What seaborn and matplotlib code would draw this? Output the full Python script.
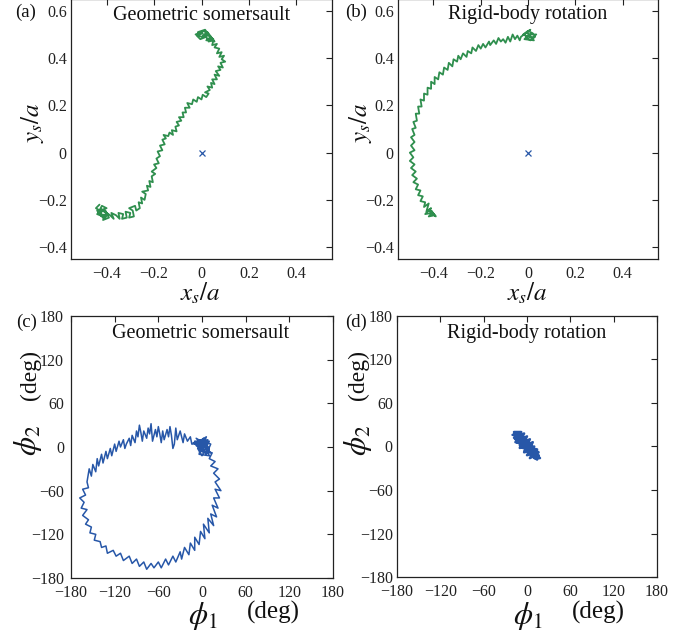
# Trajectory panels: swimmer position (top) and joint angles (bottom)

import pandas as pd
import matplotlib.pyplot as plt
import seaborn as sns

GREEN = '#2f8f4e'
BLUE = '#2757a8'

# (a) geometric somersault, position x_s/a, y_s/a
xs_a = [-0.43, -0.445, -0.42, -0.44, -0.415, -0.43, -0.40, -0.42, -0.435, -0.41, -0.395, -0.425,
        -0.44, -0.405, -0.39, -0.415, -0.40, -0.425, -0.385, -0.37, -0.38, -0.36,
        -0.345, -0.35, -0.33, -0.335, -0.315, -0.32, -0.30, -0.305, -0.285, -0.29, -0.305,
        -0.28, -0.275, -0.26, -0.265, -0.25, -0.255, -0.24, -0.235, -0.25, -0.225, -0.23,
        -0.215, -0.22, -0.205, -0.21, -0.195, -0.21, -0.19, -0.20, -0.18, -0.19, -0.175,
        -0.185, -0.165, -0.175, -0.155, -0.165, -0.15, -0.16, -0.14, -0.135, -0.12, -0.125,
        -0.105, -0.11, -0.095, -0.105, -0.085, -0.095, -0.075, -0.08, -0.065, -0.07, -0.05,
        -0.06, -0.04, -0.035, -0.02, -0.015, 0.0, 0.005, 0.02, 0.03, 0.015, 0.035, 0.025,
        0.045, 0.04, 0.055, 0.045, 0.065, 0.055, 0.075, 0.06, 0.08, 0.07, 0.09, 0.08, 0.10,
        0.085, 0.095, 0.075, 0.085, 0.065, 0.075, 0.055, 0.065, 0.045, 0.05, 0.03,
        0.02, -0.005, -0.02, 0.005, -0.015, 0.015, 0.03, 0.0, -0.025, 0.01, 0.04, 0.02, 0.05,
        0.03, 0.005, 0.025, 0.055, 0.035]
ys_a = [-0.22, -0.235, -0.25, -0.26, -0.27, -0.245, -0.235, -0.225, -0.255, -0.28, -0.26,
        -0.265, -0.245, -0.245, -0.275, -0.285, -0.255, -0.24, -0.265, -0.28, -0.255, -0.265,
        -0.28, -0.255, -0.26, -0.28, -0.275, -0.25, -0.255, -0.275, -0.27, -0.245, -0.235,
        -0.225, -0.245, -0.235, -0.21, -0.215, -0.19, -0.20, -0.175, -0.165, -0.16, -0.14,
        -0.145, -0.12, -0.125, -0.10, -0.09, -0.08, -0.065, -0.05, -0.045, -0.025, -0.015,
        0.005, 0.01, 0.03, 0.035, 0.055, 0.06, 0.075, 0.07, 0.085, 0.075, 0.095, 0.09, 0.11,
        0.115, 0.13, 0.135, 0.15, 0.15, 0.17, 0.17, 0.19, 0.19, 0.21, 0.205, 0.225, 0.215,
        0.235, 0.225, 0.245, 0.235, 0.25, 0.255, 0.265, 0.28, 0.275, 0.295, 0.29, 0.31, 0.31,
        0.33, 0.325, 0.345, 0.35, 0.365, 0.36, 0.38, 0.385, 0.395, 0.41, 0.405, 0.425, 0.42,
        0.44, 0.445, 0.46, 0.455, 0.475, 0.47,
        0.49, 0.48, 0.495, 0.505, 0.51, 0.52, 0.50, 0.49, 0.50, 0.515, 0.49, 0.475, 0.48,
        0.495, 0.495, 0.51, 0.47, 0.48]

# (b) rigid-body rotation, position
xs_b = [0.03, 0.01, -0.01, 0.02, 0.0, -0.02, 0.015, 0.035, 0.005, -0.015, 0.025, -0.005,
        0.01, -0.03,
        -0.035, -0.045, -0.055, -0.065, -0.075, -0.085, -0.095, -0.105, -0.115, -0.125,
        -0.135, -0.145, -0.16, -0.165, -0.18, -0.19, -0.20, -0.21, -0.22, -0.235, -0.24,
        -0.255, -0.26, -0.275, -0.285, -0.295, -0.30, -0.315, -0.32, -0.335, -0.34, -0.355,
        -0.36, -0.375, -0.38, -0.395, -0.395, -0.41, -0.41, -0.425, -0.425, -0.44, -0.44,
        -0.455, -0.45, -0.465, -0.46, -0.475, -0.47, -0.485, -0.475, -0.49, -0.48, -0.495,
        -0.48, -0.495, -0.48, -0.50, -0.485, -0.50, -0.48, -0.495, -0.475, -0.49, -0.47,
        -0.485, -0.465, -0.475, -0.455, -0.465, -0.445, -0.455, -0.435,
        -0.44, -0.42, -0.43, -0.41, -0.435, -0.405, -0.42, -0.395, -0.41, -0.39, -0.425]
ys_b = [0.49, 0.475, 0.49, 0.505, 0.515, 0.50, 0.485, 0.50, 0.50, 0.48, 0.475, 0.51, 0.52,
        0.49,
        0.475, 0.495, 0.48, 0.50, 0.47, 0.49, 0.465, 0.48, 0.47, 0.485, 0.46, 0.475, 0.455,
        0.47, 0.445, 0.46, 0.44, 0.455, 0.43, 0.445, 0.42, 0.43, 0.405, 0.42, 0.395, 0.41,
        0.385, 0.395, 0.365, 0.38, 0.35, 0.36, 0.33, 0.34, 0.31, 0.32, 0.29, 0.30, 0.27,
        0.275, 0.245, 0.25, 0.22, 0.225, 0.195, 0.195, 0.165, 0.165, 0.135, 0.13, 0.105,
        0.10, 0.075, 0.065, 0.045, 0.03, 0.01, 0.0, -0.02, -0.035, -0.05, -0.065, -0.08,
        -0.095, -0.11, -0.125, -0.135, -0.155, -0.16, -0.18, -0.185, -0.205, -0.21,
        -0.23, -0.215, -0.25, -0.235, -0.26, -0.255, -0.27, -0.265, -0.245, -0.27, -0.24]

# (c) geometric somersault, joint angles in degrees
phi1_c = [0, 8, -6, 10, 2, -8, 6, 12, -4, 4, -10, 10, 0, -6, 8, 2, -8, 12, -2, 6, -10, 4, 10,
          -4, 0, 8, -6, 2, -12, 6,
          -14, -16, -20, -24, -26, -30, -34, -36, -38, -40, -42, -44, -46, -48, -52, -54, -56,
          -58, -60, -62, -64, -68, -70, -72, -74, -76, -80, -82, -84, -86, -88, -90, -92, -96,
          -98, -100, -104, -106, -108, -112, -114, -118, -120, -124, -126, -130, -132, -136,
          -138, -142, -144, -146, -150, -152, -155, -158, -156, -164, -160, -168, -162, -166,
          -158, -164, -156, -160, -152, -154, -146, -148, -140, -138, -132, -130, -122, -118,
          -112, -108, -100, -96, -90, -86, -80, -76, -70, -66, -60, -56, -50, -46, -40, -36,
          -30, -28, -24, -18, -16, -10, -10, -4, -2, 4, 2, 10, 8, 16, 12, 20, 14, 22, 16, 24,
          18, 26, 18, 24, 16, 22, 12, 18, 10, 14, 6]
phi2_c = [0, 10, 6, -4, 12, 2, -10, 4, 10, -6, 8, 8, -12, -2, 0, 6, 12, -8, -6, 14, 4, 2, -12,
          -10, 8, -2, 10, -4, 6, 6,
          4, 14, 8, 18, 6, 22, 10, 26, 4, -2, 16, 28, 14, 24, 10, 22, 6, 18, 28, 14, 24, 8, 32,
          18, 26, 12, 22, 8, 20, 30, 14, 22, 6, 16, 2, 12, 4, -2, 10, 0, 8, -6, 4, -12, -2,
          -16, -6, -22, -10, -26, -16, -34, -24, -40, -30, -48, -56, -58, -66, -70, -76, -84,
          -86, -94, -100, -106, -110, -118, -120, -128, -130, -138, -136, -146, -142, -150,
          -146, -156, -150, -160, -154, -164, -158, -168, -160, -166, -158, -166, -154, -162,
          -150, -158, -144, -154, -138, -148, -132, -142, -124, -134, -116, -126, -106, -118,
          -98, -108, -92, -96, -80, -84, -70, -70, -58, -60, -48, -44, -36, -30, -26, -20,
          -16, -8, -6]

# (d) rigid-body rotation, joint angles in degrees
phi1_d = [-20, -10, -16, -6, -14, -2, -10, 2, -6, 6, -2, 10, 2, 12, 6, 16, 10, 18, 8, 14, 4,
          8, 0, 4, -4, 0, -8, -4, -14, -8, -18, -12, -16, -8, -10, -2, -4, 4, 0, 8, 4, 12, 16,
          10, 6, 2, -2, -6, -12, -16, -12, -6, 0, 6, 12, 14, 8, 2, -4, -10, -18, -14, -8, -2,
          2, 6, 10, 16, 12, 6, 0, -6, -12, -16]
phi2_d = [16, 18, 10, 14, 6, 12, 2, 8, -2, 4, -6, 0, -10, -6, -14, -12, -16, -16, -8, -4, -2,
          6, 2, 10, 6, 14, 10, 18, 14, 20, 20, 12, 6, 4, -2, 0, -8, -6, -12, -10, -16, -12, -8,
          -4, 2, 4, 8, 10, 16, 14, 8, 6, 0, -6, -14, -18, -14, -6, 0, 6, 12, 18, 14, 10, 2, -2,
          -8, -14, -10, -10, -4, 2, 10, 18]

POS_TICKS = [-0.4, -0.2, 0, 0.2, 0.4]
POS_YTICKS = [-0.4, -0.2, 0, 0.2, 0.4, 0.6]
ANG_TICKS = [-180, -120, -60, 0, 60, 120, 180]

W, H = 695, 636


def fx(px):
    return px / W


def fy(py):
    return 1 - py / H


def tick_label(v):
    if v == 0:
        return '0'
    s = f'{abs(v):g}'
    return ('\u2212' + s) if v < 0 else s


def style_axes(ax, ypad=3):
    for sp in ax.spines.values():
        sp.set_visible(True)
        sp.set_linewidth(0.9)
        sp.set_color('#222222')
    ax.tick_params(direction='in', top=True, right=True, length=4, width=0.8,
                   labelsize=11.5, colors='#222222', pad=5)
    ax.tick_params(axis='y', pad=ypad)
    ax.set_xlabel('')
    ax.set_ylabel('')


# Top row: centre-of-mass path with origin marker
def plot_position(ax, x, y):
    df = pd.DataFrame({'x': x, 'y': y})
    sns.lineplot(data=df, x='x', y='y', sort=False, estimator=None, ax=ax,
                 color=GREEN, lw=1.3)
    ax.plot([0], [0], 'x', color=BLUE, ms=4, mew=0.9)
    ax.set_xlim(-0.55, 0.55)
    ax.set_ylim(-0.45, 0.65)
    ax.set_xticks(POS_TICKS)
    ax.set_xticklabels([tick_label(v) for v in POS_TICKS])
    ax.set_yticks(POS_YTICKS)
    ax.set_yticklabels([tick_label(v) for v in POS_YTICKS])
    style_axes(ax)


# Bottom row: joint angle path
def plot_angles(ax, p1, p2, lw=1.1, ypad=3):
    df = pd.DataFrame({'p1': p1, 'p2': p2})
    sns.lineplot(data=df, x='p1', y='p2', sort=False, estimator=None, ax=ax,
                 color=BLUE, lw=lw)
    ax.set_xlim(-180, 180)
    ax.set_ylim(-180, 180)
    ax.set_xticks(ANG_TICKS)
    ax.set_xticklabels([tick_label(v) for v in ANG_TICKS])
    ax.set_yticks(ANG_TICKS)
    ax.set_yticklabels([tick_label(v) for v in ANG_TICKS])
    style_axes(ax, ypad)


def main():
    sns.set_style('white')
    plt.rcParams['font.family'] = ['Liberation Serif', 'DejaVu Serif']
    plt.rcParams['mathtext.fontset'] = 'stix'

    fig = plt.figure(figsize=(6.95, 6.36), dpi=100)
    ax_a = fig.add_axes([fx(71), fy(259), fx(261), 260 / H])
    ax_b = fig.add_axes([fx(398), fy(259), fx(260), 260 / H])
    ax_c = fig.add_axes([fx(71), fy(578), fx(262), 262 / H])
    ax_d = fig.add_axes([fx(397), fy(577), fx(260), 261 / H])

    plot_position(ax_a, xs_a, ys_a)
    plot_position(ax_b, xs_b, ys_b)
    plot_angles(ax_c, phi1_c, phi2_c, ypad=5)
    plot_angles(ax_d, phi1_d, phi2_d, lw=1.8)

    tc = '#111111'
    # panel titles inside the axes
    fig.text(fx(202), fy(15), 'Geometric somersault', fontsize=14.5, ha='center', va='center', color=tc)
    fig.text(fx(528), fy(15), 'Rigid-body rotation', fontsize=14.5, ha='center', va='center', color=tc)
    fig.text(fx(201), fy(333), 'Geometric somersault', fontsize=14.5, ha='center', va='center', color=tc)
    fig.text(fx(527), fy(333), 'Rigid-body rotation', fontsize=14.5, ha='center', va='center', color=tc)

    # panel letters
    for lab, px, py in [('(a)', 26, 12), ('(b)', 356, 12), ('(c)', 27, 322), ('(d)', 356, 322)]:
        fig.text(fx(px), fy(py), lab, fontsize=13.5, ha='center', va='center', color=tc)

    # position axis labels
    for px in (200, 527):
        fig.text(fx(px), fy(293), r'$x_s/a$', fontsize=18, ha='center', va='center', color=tc)
    for px in (33, 361):
        fig.text(fx(px), fy(123), r'$y_s/a$', fontsize=18, ha='center', va='center',
                 rotation=90, color=tc)

    # angle axis labels
    for px in (203, 528):
        fig.text(fx(px), fy(616), r'$\phi_1$', fontsize=22, ha='center', va='center', color=tc)
        fig.text(fx(px + 70), fy(612), '(deg)', fontsize=18, ha='center', va='center', color=tc)
    for px, dpx in ((28, 30), (358, 358)):
        fig.text(fx(px), fy(440), r'$\phi_2$', fontsize=22, ha='center', va='center',
                 rotation=90, color=tc)
        fig.text(fx(dpx), fy(375), '(deg)', fontsize=17, ha='center', va='center',
                 rotation=90, color=tc)

    fig.savefig('out.png', dpi=100)


if __name__ == "__main__":
    main()
